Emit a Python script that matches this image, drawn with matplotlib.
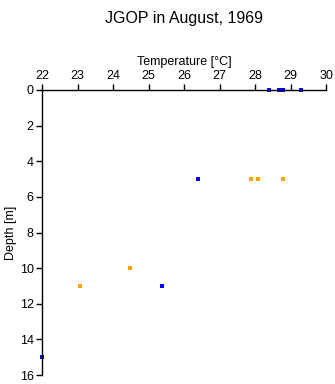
import numpy as np
import matplotlib
matplotlib.use('Agg')
import matplotlib.pyplot as plt

matplotlib.rcParams['font.family'] = ['Liberation Sans', 'DejaVu Sans']

# blue series
blue_temp = [28.40, 28.68, 28.78, 29.30, 26.39, 25.38, 22.0]
blue_depth = [0, 0, 0, 0, 5, 11, 15]
# orange series
orange_temp = [27.89, 28.08, 28.79, 24.48, 23.07]
orange_depth = [5, 5, 5, 10, 11]

xticks = np.arange(22, 31, 1)
yticks = np.arange(0, 17, 2)

fig = plt.figure(figsize=(3.35, 3.84), dpi=100)
ax = fig.add_axes([42/335, 1-375/384, (326-42)/335, (375-90)/384])

ax.plot(blue_temp, blue_depth, 's', color='#0000ff', markersize=2.2, markeredgewidth=0, clip_on=False)
ax.plot(orange_temp, orange_depth, 's', color='#ffa500', markersize=2.2, markeredgewidth=0, clip_on=False)

ax.set_xlim(22, 30)
ax.set_ylim(16, 0)
ax.set_xticks(xticks)
ax.set_yticks(yticks)
ax.xaxis.tick_top()
ax.xaxis.set_label_position('top')
ax.spines['right'].set_visible(False)
ax.spines['bottom'].set_visible(False)
ax.spines['top'].set_linewidth(1.0)
ax.spines['left'].set_linewidth(1.0)
ax.tick_params(direction='out', length=4, width=1.0, labelsize=9, pad=2)
ax.set_xlabel('Temperature [°C]', fontsize=9, labelpad=3)
ax.set_ylabel('Depth [m]', fontsize=9, labelpad=2)

fig.text(184/335, 1-11/384, 'JGOP in August, 1969', ha='center', va='top', fontsize=11.5)

fig.savefig('out.png', dpi=100)
